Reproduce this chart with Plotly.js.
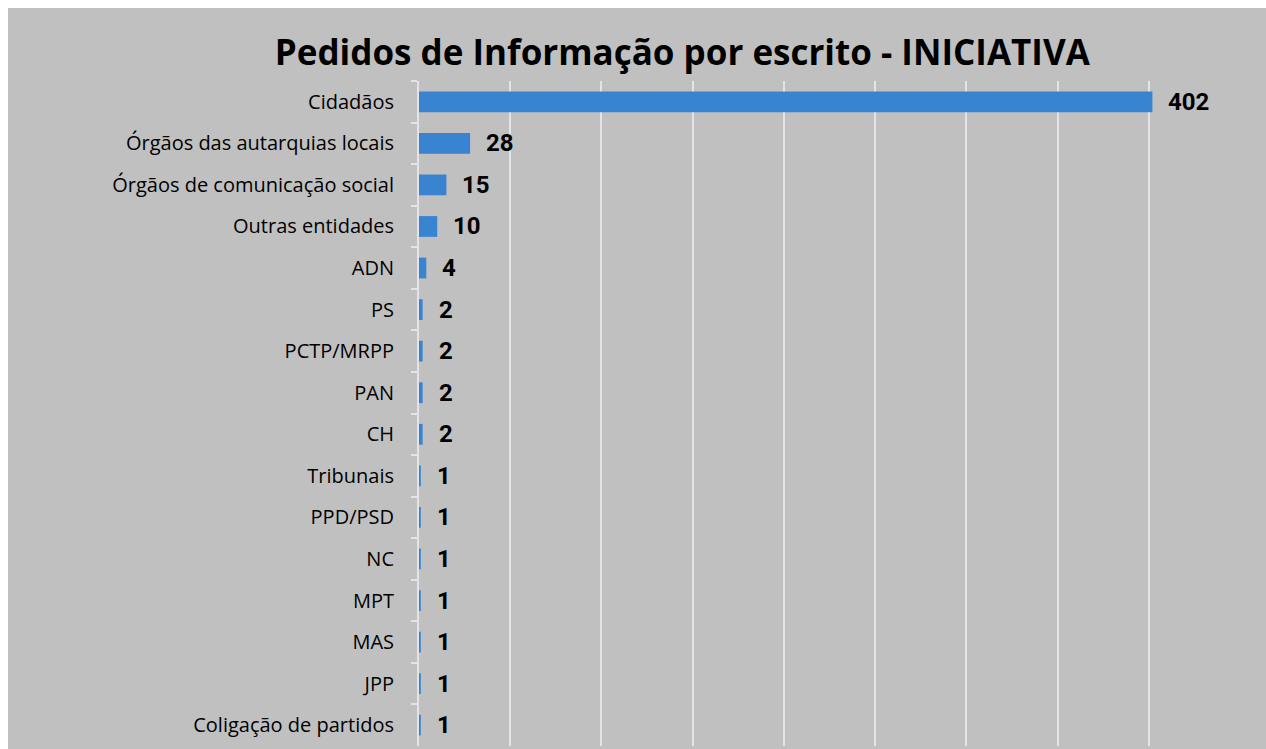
<!DOCTYPE html>
<html><head><meta charset="utf-8">
<script src="https://cdn.plot.ly/plotly-3.0.1.min.js"></script>
<style>
html,body{margin:0;padding:0;background:#ffffff;}
#chart{position:absolute;left:8px;top:8px;width:1258px;height:741px;}
</style></head>
<body><div id="chart"></div>
<script>
const categories = ["Cidadãos","Órgãos das autarquias locais","Órgãos de comunicação social","Outras entidades","ADN","PS","PCTP/MRPP","PAN","CH","Tribunais","PPD/PSD","NC","MPT","MAS","JPP","Coligação de partidos"];
const values = [402,28,15,10,4,2,2,2,2,1,1,1,1,1,1,1];
const titleText = "Pedidos de Informação por escrito - INICIATIVA";

const trace = {
  type:'bar', orientation:'h', x: values, y: categories,
  marker:{color:'#3984d0', line:{width:0}},
  hoverinfo:'x+y'
};
const annotations = values.map((v,i)=>({
  x:v, y:categories[i], xref:'x', yref:'y', text:String(v), showarrow:false,
  xanchor:'left', xshift:14, font:{family:'Roboto', size:24, color:'#000', weight:700}
}));
const layout = {
  width:1258, height:741,
  paper_bgcolor:'#c0c0c0', plot_bgcolor:'#c0c0c0',
  margin:{l:411, r:26, t:73, b:3},
  bargap:0.5, showlegend:false,
  title:{text:titleText, x:0.536, xanchor:'center', y:0.94, yanchor:'middle',
    font:{family:'Open Sans', size:35, color:'#000', weight:700}},
  xaxis:{range:[0,450], dtick:50, showticklabels:false, showgrid:true, gridcolor:'#e2e4e8', gridwidth:2, zeroline:false, fixedrange:true},
  yaxis:{autorange:'reversed', type:'category', tickson:'boundaries', ticks:'outside', ticklen:6, tickcolor:'#e2e4e8', tickwidth:2,
    showline:true, linecolor:'#e2e4e8', linewidth:2, ticklabelstandoff:19,
    tickfont:{family:'Open Sans', size:20, color:'#000'}, showgrid:false, fixedrange:true},
  annotations: annotations
};
Plotly.newPlot('chart',[trace],layout,{displayModeBar:false, staticPlot:true});
</script></body></html>
